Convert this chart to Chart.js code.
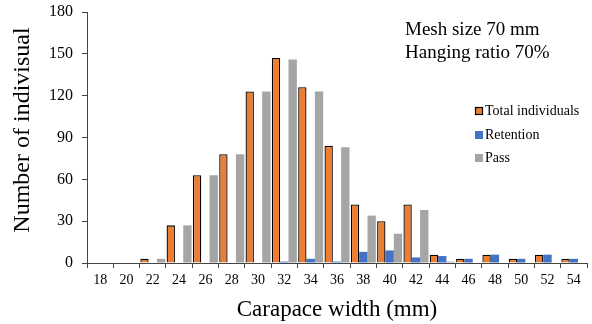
<!DOCTYPE html>
<html><head><meta charset="utf-8">
<script src="https://cdn.jsdelivr.net/npm/chart.js@4"></script>
<style>html,body{margin:0;padding:0;background:#fff}#wrap{width:592px;height:324px;position:relative}</style>
</head><body><div id="wrap"><canvas id="c" width="592" height="324"></canvas></div>
<script>
const categories = ['18','20','22','24','26','28','30','32','34','36','38','40','42','44','46','48','50','52','54'];
const totalIndividuals = [0,0,3,27,63,78,123,147,126,84,42,30,42,6,3,6,3,6,3];
const retention = [0,0,0,0,0,0,0,1,3,1,8,9,4,5,3,6,3,6,3];
const pass = [0,0,3,27,63,78,123,146,123,83,34,21,38,1,0,0,0,0,0];
const yTicks = [0,30,60,90,120,150,180];
const seriesNames = ['Total individuals','Retention','Pass'];
const colors = ['#ED7D31','#4472C4','#A5A5A5'];
const noteLines = ['Mesh size 70 mm','Hanging ratio 70%'];
const yTitle = 'Number of indivisual';
const FONT = '"Liberation Serif", "Times New Roman", serif';

const overlay = {
  id:'overlay',
  afterDraw(chart){
    const ctx = chart.ctx;
    ctx.save();
    ctx.fillStyle = '#000';
    ctx.textBaseline = 'middle';
    ctx.textAlign = 'center';
    ctx.font = '24px ' + FONT;
    ctx.save();
    ctx.translate(23, 130);
    ctx.rotate(-Math.PI/2);
    ctx.fillText(yTitle, 0, 0);
    ctx.restore();
    ctx.textAlign = 'left';
    ctx.font = '19px ' + FONT;
    ctx.fillText(noteLines[0], 405, 30);
    ctx.fillText(noteLines[1], 405, 53);
    ctx.font = '14px ' + FONT;
    const ys = [111,135,158];
    seriesNames.forEach((n,i)=>{
      ctx.fillStyle = colors[i];
      ctx.fillRect(475, ys[i]-4, 8, 8);
      if(i===0){ctx.strokeStyle='#000';ctx.lineWidth=1.2;ctx.strokeRect(475.5, ys[i]-3.5, 7, 7);}
      ctx.fillStyle = '#000';
      ctx.fillText(n, 485, ys[i]);
    });
    ctx.restore();
  }
};

new Chart(document.getElementById('c'), {
  type:'bar',
  data:{
    labels: categories,
    datasets:[
      {label:seriesNames[0], data: totalIndividuals, backgroundColor: colors[0], borderColor:'#000', borderWidth:1.3},
      {label:seriesNames[1], data: retention, backgroundColor: colors[1], borderWidth:0},
      {label:seriesNames[2], data: pass, backgroundColor: colors[2], borderWidth:0}
    ]
  },
  options:{
    responsive:false, animation:false,
    categoryPercentage:0.95, barPercentage:1.0,
    layout:{padding:{left:0,right:5,top:0,bottom:0}},
    plugins:{legend:{display:false}, tooltip:{enabled:false}},
    scales:{
      x:{
        grid:{drawOnChartArea:false, drawTicks:true, tickLength:5, color:'#444', offset:true},
        border:{color:'#444'},
        ticks:{color:'#000', font:{family:FONT, size:14}, padding:4, maxRotation:0, autoSkip:false},
        title:{display:true, text:'Carapace width (mm)', color:'#000', font:{family:FONT, size:23}, padding:{top:9,bottom:0}},
        afterFit(s){ s.height = 324-263; }
      },
      y:{
        min:0, max:180,
        afterBuildTicks(s){ s.ticks = yTicks.map(v=>({value:v})); },
        grid:{drawOnChartArea:false, drawTicks:true, tickLength:5, color:'#444'},
        border:{color:'#444'},
        ticks:{color:'#000', font:{family:FONT, size:16}, padding:9},
        afterFit(s){ s.width = 87; s.paddingTop = 12; }
      }
    }
  },
  plugins:[overlay]
});
</script></body></html>
